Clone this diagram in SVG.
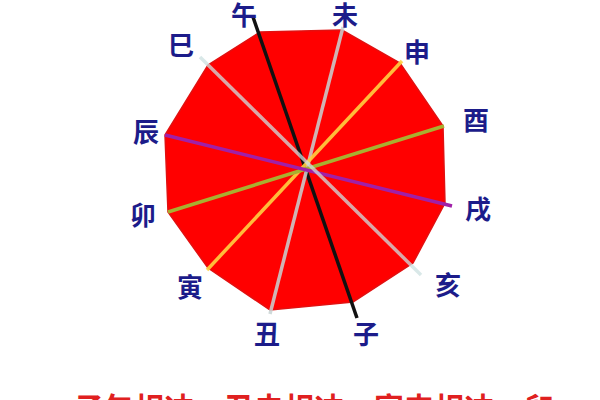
<svg xmlns="http://www.w3.org/2000/svg" width="600" height="400" viewBox="0 0 600 400">
<style>
.lbl{font-family:"Noto Sans CJK SC","Noto Sans CJK JP",sans-serif;font-size:26px;font-weight:bold;fill:#1c1c8a;text-anchor:middle;dominant-baseline:central}
.ln{stroke-width:3.5;stroke-linecap:butt;fill:none}
.cap{font-family:"Noto Sans CJK SC",sans-serif;font-size:30px;font-weight:bold;fill:#e02020}
</style>
<rect width="600" height="400" fill="#ffffff"/>
<g id="dodecagon">
<polygon points="260,32 342,30 400,63 443,126 445,203 413,263 353,302 270,310 208,268 168,212 165,135 208,65" fill="#ff0000" stroke="#e21010" stroke-width="1.5"/>
</g>
<g id="connectors">
<line class="ln" x1="253" y1="17" x2="357" y2="318" stroke="#111111"/>
<line class="ln" x1="343" y1="27" x2="270" y2="314" stroke="#c8d4d4" stroke-opacity="0.85"/>
<line class="ln" x1="402" y1="61" x2="207" y2="270" stroke="#ffd040" stroke-opacity="0.9"/>
<line class="ln" x1="444" y1="126" x2="168" y2="212" stroke="#a8b030"/>
<line class="ln" x1="165" y1="135" x2="452" y2="206" stroke="#a020a8"/>
<line class="ln" x1="200" y1="57" x2="421" y2="275" stroke="#cce0e0" stroke-opacity="0.75"/>
</g>
<g id="n-wu"><text class="lbl" x="244" y="13">午</text></g>
<g id="n-wei"><text class="lbl" x="345" y="13">未</text></g>
<g id="n-si"><text class="lbl" x="181" y="43">巳</text></g>
<g id="n-shen"><text class="lbl" x="417" y="50">申</text></g>
<g id="n-chen"><text class="lbl" x="146" y="130">辰</text></g>
<g id="n-you"><text class="lbl" x="476" y="118">酉</text></g>
<g id="n-mao"><text class="lbl" x="143" y="213">卯</text></g>
<g id="n-xu"><text class="lbl" x="478" y="207">戌</text></g>
<g id="n-yin"><text class="lbl" x="190" y="285">寅</text></g>
<g id="n-hai"><text class="lbl" x="448" y="283">亥</text></g>
<g id="n-chou"><text class="lbl" x="267" y="332">丑</text></g>
<g id="n-zi"><text class="lbl" x="366" y="332">子</text></g>
<g id="caption"><text class="cap" x="74" y="419">子午相冲，丑未相冲，寅申相冲，卯</text></g>
</svg>
